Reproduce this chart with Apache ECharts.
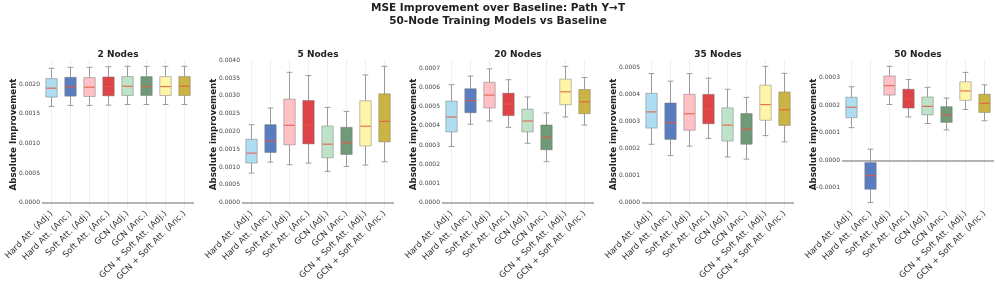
<!DOCTYPE html>
<html>
<head>
<meta charset="utf-8">
<script src="https://cdn.jsdelivr.net/npm/echarts@6/dist/echarts.min.js"></script>
<style>html,body{margin:0;padding:0;background:#fff}#c{width:996px;height:284px}</style>
</head>
<body>
<div id="c"></div>
<script>
const mainTitle = 'MSE Improvement over Baseline: Path Y\u2192T\n50-Node Training Models vs Baseline';
const categories = ['Hard Att. (Adj.)','Hard Att. (Anc.)','Soft Att. (Adj.)','Soft Att. (Anc.)','GCN (Adj.)','GCN (Anc.)','GCN + Soft Att. (Adj.)','GCN + Soft Att. (Anc.)'];
const panelTitles = ['2 Nodes','5 Nodes','20 Nodes','35 Nodes','50 Nodes'];
const yNames = ['Absolute Improvement','Absolute improvement','Absolute improvement','Absolute improvement','Absolute improvement'];
// each box: [lower whisker, Q1, median, Q3, upper whisker]
const nodes2 = [
  [0.001625,0.001782,0.001933,0.002095,0.002269],
  [0.001641,0.001798,0.001955,0.002118,0.002286],
  [0.001641,0.001793,0.001950,0.002112,0.002286],
  [0.001647,0.001804,0.001961,0.002123,0.002297],
  [0.001658,0.001810,0.001966,0.002129,0.002303],
  [0.001658,0.001810,0.001961,0.002129,0.002303],
  [0.001658,0.001810,0.001961,0.002129,0.002303],
  [0.001658,0.001810,0.001966,0.002129,0.002303]
];
const nodes5 = [
  [0.000830,0.001110,0.001389,0.001781,0.002191],
  [0.001138,0.001408,0.001734,0.002191,0.002657],
  [0.001063,0.001622,0.002172,0.002909,0.003664],
  [0.001110,0.001650,0.002182,0.002872,0.003571],
  [0.000876,0.001259,0.001641,0.002154,0.002676],
  [0.001016,0.001352,0.001678,0.002117,0.002564],
  [0.001054,0.001594,0.002145,0.002862,0.003590],
  [0.001147,0.001706,0.002284,0.003058,0.003832]
];
const nodes20 = [
  [0.000292,0.000368,0.000446,0.000529,0.000614],
  [0.000408,0.000468,0.000531,0.000593,0.000659],
  [0.000425,0.000493,0.000560,0.000627,0.000697],
  [0.000392,0.000453,0.000513,0.000570,0.000640],
  [0.000309,0.000368,0.000425,0.000487,0.000550],
  [0.000213,0.000275,0.000340,0.000404,0.000467],
  [0.000446,0.000510,0.000577,0.000643,0.000710],
  [0.000404,0.000463,0.000525,0.000589,0.000652]
];
const nodes35 = [
  [0.000216,0.000276,0.000336,0.000405,0.000478],
  [0.000174,0.000234,0.000296,0.000369,0.000450],
  [0.000209,0.000268,0.000329,0.000401,0.000478],
  [0.000238,0.000292,0.000347,0.000401,0.000461],
  [0.000169,0.000228,0.000287,0.000351,0.000420],
  [0.000161,0.000216,0.000272,0.000330,0.000390],
  [0.000248,0.000305,0.000363,0.000435,0.000505],
  [0.000225,0.000286,0.000344,0.000410,0.000479]
];
const nodes50 = [
  [0.000118,0.000154,0.000192,0.000228,0.000266],
  [-0.000153,-0.000105,-0.0000554,-0.0000084,0.000040],
  [0.000202,0.000236,0.000270,0.000305,0.000340],
  [0.000157,0.000189,0.000223,0.000257,0.000292],
  [0.000133,0.000164,0.000195,0.000229,0.000264],
  [0.000110,0.000137,0.000164,0.000194,0.000225],
  [0.000184,0.000217,0.000251,0.000284,0.000318],
  [0.000143,0.000173,0.000206,0.000239,0.000273]
];
const ticks2 = [0,0.0005,0.0010,0.0015,0.0020];
const ticks5 = [0,0.0005,0.0010,0.0015,0.0020,0.0025,0.0030,0.0035,0.0040];
const ticks20 = [0,0.0001,0.0002,0.0003,0.0004,0.0005,0.0006,0.0007];
const ticks35 = [0,0.0001,0.0002,0.0003,0.0004,0.0005];
const ticks50 = [-0.0001,0,0.0001,0.0002,0.0003];

const panels = [nodes2,nodes5,nodes20,nodes35,nodes50];
const panelTicks = [ticks2,ticks5,ticks20,ticks35,ticks50];
const boxColors = ['#aedcf0','#5a7dbf','#ffc0c6','#dd4448','#bfe3c8','#6f9977','#fff5a8','#ccb444'];
const medianColor = 'rgba(232,88,64,0.85)';
const FONT = 'DejaVu Sans';

const chart = echarts.init(document.getElementById('c'), null, {renderer:'canvas'});
const grids=[], xAxes=[], yAxes=[], series=[], graphics=[];
const GT = 59.5, GH = 150.5, GW = 152;

panels.forEach((data, p) => {
  const left = 42 + 200*p;
  grids.push({left: left, top: GT, width: GW, height: GH, containLabel:false});
  let dmin = Math.min(0, ...data.map(d=>d[0]));
  let dmax = Math.max(0, ...data.map(d=>d[4]));
  const r = dmax - dmin;
  xAxes.push({
    type:'category', gridIndex:p, data:categories,
    axisLine:{show:false}, axisTick:{show:false}, splitLine:{show:false},
    axisLabel:{rotate:45, fontSize:8.5, color:'#333', margin:3, fontFamily:FONT, interval:0}
  });
  yAxes.push({
    type:'value', gridIndex:p, min: dmin - 0.05*r, max: dmax + 0.05*r,
    axisLine:{show:false}, axisTick:{show:false}, splitLine:{show:false},
    axisLabel:{customValues: panelTicks[p], fontSize:6, color:'#444', margin:2, fontFamily:FONT,
      formatter: v => (v < 0 ? '\u2212' : '') + Math.abs(v).toFixed(4)},
    name: yNames[p], nameLocation:'middle', nameGap:23.5, nameMoveOverlap:false,
    nameTextStyle:{fontSize:8.7, fontWeight:'bold', color:'#222', fontFamily:FONT}
  });
  // grid lines
  series.push({
    type:'line', xAxisIndex:p, yAxisIndex:p, data:[], z:0, silent:true,
    markLine:{silent:true, symbol:'none', z:0, animation:false,
      label:{show:false},
      lineStyle:{color:'#ececec', width:0.8, type:'solid'},
      data: categories.map(c=>({xAxis:c})).concat(panelTicks[p].filter(t=>t!==0).map(t=>({yAxis:t})))
    }
  });
  series.push({
    type:'line', xAxisIndex:p, yAxisIndex:p, data:[], z:1, silent:true,
    markLine:{silent:true, symbol:'none', z:1, animation:false,
      label:{show:false},
      lineStyle:{color:'rgba(128,128,128,0.75)', width:1.5, type:'solid'},
      data:[{yAxis:0}]
    }
  });
  series.push({
    type:'custom', xAxisIndex:p, yAxisIndex:p, z:3,
    data: data.map((d,i)=>[i].concat(d)),
    encode:{x:0, y:[1,2,3,4,5]},
    renderItem: function(params, api){
      const i = api.value(0);
      const band = api.size([1,0])[0];
      const bw = band*0.6, cw = band*0.3;
      const pl = api.coord([i, api.value(1)]);
      const q1 = api.coord([i, api.value(2)]);
      const md = api.coord([i, api.value(3)]);
      const q3 = api.coord([i, api.value(4)]);
      const ph = api.coord([i, api.value(5)]);
      const x = pl[0];
      const ws = {stroke:'#9a9a9a', lineWidth:1};
      return {type:'group', children:[
        {type:'line', shape:{x1:x,y1:pl[1],x2:x,y2:q1[1]}, style:ws},
        {type:'line', shape:{x1:x,y1:q3[1],x2:x,y2:ph[1]}, style:ws},
        {type:'line', shape:{x1:x-cw/2,y1:pl[1],x2:x+cw/2,y2:pl[1]}, style:ws},
        {type:'line', shape:{x1:x-cw/2,y1:ph[1],x2:x+cw/2,y2:ph[1]}, style:ws},
        {type:'rect', shape:{x:x-bw/2, y:q3[1], width:bw, height:q1[1]-q3[1]},
          style:{fill:boxColors[i], stroke:'rgba(110,110,110,0.45)', lineWidth:1}},
        {type:'line', shape:{x1:x-bw/2+0.5,y1:md[1],x2:x+bw/2-0.5,y2:md[1]},
          style:{stroke:medianColor, lineWidth:1.2}}
      ]};
    }
  });
  graphics.push({type:'text', x: left + GW/2, y: 54.5,
    style:{text: panelTitles[p], fontSize:9, fontWeight:'bold', fill:'#222', fontFamily:FONT, align:'center', verticalAlign:'middle'}});
});

graphics.push({type:'text', x:498, y:15,
  style:{text: mainTitle, fontSize:10.5, fontWeight:'bold', fill:'#222', fontFamily:FONT, align:'center', verticalAlign:'middle', lineHeight:12.5}});

chart.setOption({
  animation:false,
  backgroundColor:'#fff',
  textStyle:{fontFamily:FONT},
  grid:grids, xAxis:xAxes, yAxis:yAxes, series:series, graphic:graphics
});
</script>
</body>
</html>
